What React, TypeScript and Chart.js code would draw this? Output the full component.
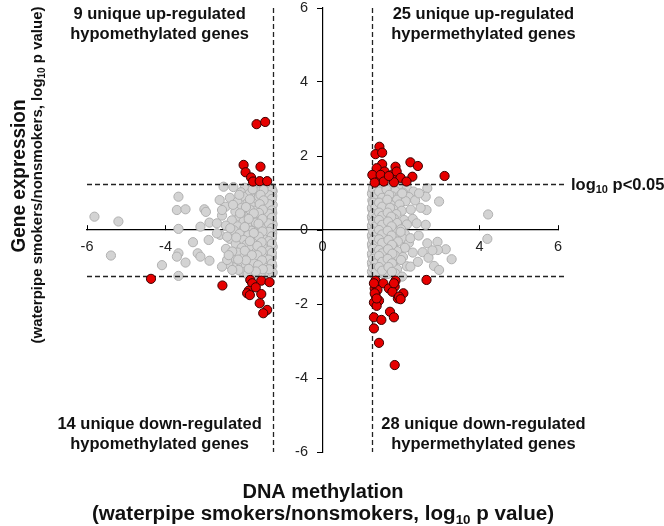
import React, { useEffect, useRef } from 'react';
import { Chart, registerables } from 'chart.js';
Chart.register(...registerables);

type P = [number, number];

const axisMin = -6;
const axisMax = 6;
const tickStep = 2;
const threshold = 1.25;

const xTitleLines = ['DNA methylation', '(waterpipe smokers/nonsmokers, log|10| p value)'];
const yTitleLines = ['Gene expression', '(waterpipe smokers/nonsmokers, log|10| p value)'];
const thresholdLabel = 'log|10| p<0.05';
const quadrantTexts = [
  ['9 unique up-regulated', 'hypomethylated genes'],
  ['25 unique up-regulated', 'hypermethylated genes'],
  ['14 unique down-regulated', 'hypomethylated genes'],
  ['28 unique down-regulated', 'hypermethylated genes'],
];

const grayLeft: P[] = [
  [-2.27,1.16],[-1.98,1.14],[-1.72,1.18],[-1.56,1.12],[-1.41,1.17],[-1.3,1.13],
  [-2.08,1.02],[-1.86,0.98],[-1.62,1.04],[-1.47,0.97],[-1.34,1.01],
  [-2.36,0.87],[-2.02,0.9],[-1.76,0.85],[-1.53,0.9],[-1.39,0.86],[-1.28,0.92],
  [-2.17,0.76],[-1.91,0.73],[-1.66,0.78],[-1.49,0.72],[-1.35,0.77],
  [-2.47,0.63],[-2.06,0.6],[-1.81,0.65],[-1.59,0.61],[-1.43,0.64],[-1.3,0.59],
  [-2.22,0.5],[-1.96,0.47],[-1.73,0.52],[-1.56,0.48],[-1.41,0.51],[-1.28,0.46],
  [-2.56,0.39],[-2.11,0.36],[-1.86,0.4],[-1.63,0.35],[-1.48,0.39],[-1.34,0.37],
  [-2.31,0.26],[-2.01,0.23],[-1.79,0.27],[-1.56,0.24],[-1.4,0.26],[-1.29,0.22],
  [-2.46,0.12],[-2.16,0.1],[-1.91,0.14],[-1.69,0.11],[-1.51,0.13],[-1.36,0.09],
  [-2.26,-0.01],[-2.01,0.02],[-1.81,-0.02],[-1.61,0.01],[-1.46,-0.03],[-1.3,0.0],
  [-2.61,-0.13],[-2.11,-0.1],[-1.89,-0.14],[-1.67,-0.11],[-1.51,-0.12],[-1.37,-0.14],
  [-2.36,-0.24],[-2.01,-0.27],[-1.76,-0.23],[-1.58,-0.26],[-1.43,-0.25],[-1.29,-0.22],
  [-2.21,-0.37],[-1.93,-0.39],[-1.71,-0.36],[-1.53,-0.4],[-1.38,-0.38],
  [-2.46,-0.51],[-2.06,-0.48],[-1.83,-0.52],[-1.63,-0.49],[-1.47,-0.5],[-1.31,-0.53],
  [-2.16,-0.61],[-1.91,-0.64],[-1.69,-0.6],[-1.51,-0.63],[-1.36,-0.61],
  [-2.31,-0.76],[-2.01,-0.74],[-1.78,-0.77],[-1.59,-0.73],[-1.43,-0.76],[-1.29,-0.74],
  [-2.11,-0.89],[-1.86,-0.87],[-1.66,-0.9],[-1.49,-0.86],[-1.35,-0.89],
  [-2.26,-1.01],[-1.96,-0.99],[-1.73,-1.02],[-1.56,-0.98],[-1.41,-1.01],[-1.28,-0.97],
  [-2.06,-1.13],[-1.81,-1.11],[-1.61,-1.14],[-1.46,-1.12],[-1.32,-1.1],
  [-1.91,-1.2],[-1.69,-1.21],[-1.51,-1.19],[-1.35,-1.22],
  [-1.27,1.05],[-1.33,0.8],[-1.27,0.68],[-1.32,0.3],[-1.27,0.15],[-1.28,-0.08],
  [-1.33,-0.3],[-1.27,-0.45],[-1.3,-0.68],[-1.32,-0.82],[-1.27,-1.15],
  [-1.45,0.82],[-1.44,0.2],[-1.46,-0.18],[-1.44,-0.7],[-1.55,0.05],[-1.6,-0.55],
  [-1.62,0.9],[-1.7,0.2],[-1.75,-0.88],[-1.85,0.55],
  [-1.29,1.08],[-1.36,0.94],[-1.29,0.84],[-1.37,0.7],[-1.29,0.53],[-1.36,0.44],
  [-1.29,0.33],[-1.37,0.18],[-1.29,0.05],[-1.36,-0.05],[-1.29,-0.17],[-1.37,-0.3],
  [-1.29,-0.37],[-1.36,-0.56],[-1.29,-0.62],[-1.37,-0.8],[-1.29,-0.91],[-1.36,-1.06],
  [-1.5,1.08],[-1.58,0.95],[-1.5,0.8],[-1.6,0.7],[-1.52,0.55],[-1.62,0.46],
  [-1.53,0.3],[-1.63,0.17],[-1.53,-0.04],[-1.62,-0.18],[-1.55,-0.33],[-1.66,-0.43],
  [-1.55,-0.57],[-1.66,-0.68],[-1.54,-0.82],[-1.64,-0.95],[-1.52,-1.06],[-1.7,-1.12],
  [-1.78,1.1],[-1.85,0.83],[-1.95,0.62],[-1.75,0.45],[-1.88,0.3],[-1.98,0.08],
  [-1.75,-0.08],[-1.85,-0.3],[-1.98,-0.56],[-1.8,-0.68],[-1.95,-0.82],[-1.88,-1.05],
  [-2.12,0.95],[-2.28,0.68],[-2.1,0.45],[-2.35,0.05],[-2.2,-0.2],[-2.3,-0.58],
  [-2.15,-0.8],[-2.4,-0.92],
  [-5.81,0.36],[-5.2,0.23],[-5.39,-0.69],[-3.67,0.9],[-3.71,0.54],[-3.49,0.56],
  [-3.67,0.03],[-3.01,0.56],[-2.97,0.49],[-3.11,0.09],[-2.88,0.2],[-2.9,-0.27],
  [-3.3,-0.33],[-3.67,-0.63],[-3.71,-0.72],[-3.49,-0.88],[-4.09,-0.95],[-3.67,-1.24],
  [-3.18,-0.63],[-3.11,-0.72],[-2.88,-0.83],[-2.62,0.81],[-2.52,1.17],[-2.56,0.54],
  [-2.69,0.18],[-2.69,-0.09],[-2.43,-0.18],[-2.56,-0.99],[-2.43,-0.81],[-2.39,-0.68],
  [-2.14,-1.08],[-2.3,-1.08],
];

const grayRight: P[] = [
  [1.3,1.17],[1.42,1.15],[1.58,1.18],[1.75,1.14],[1.95,1.17],[2.15,1.13],
  [1.28,1.05],[1.38,1.02],[1.5,1.06],[1.66,1.03],[1.85,1.06],[2.05,1.01],[2.32,1.04],
  [1.32,0.92],[1.45,0.9],[1.6,0.94],[1.78,0.91],[1.98,0.93],[2.2,0.89],
  [1.27,0.8],[1.38,0.78],[1.52,0.81],[1.7,0.79],[1.9,0.82],[2.12,0.78],[2.36,0.8],
  [1.3,0.68],[1.43,0.66],[1.57,0.7],[1.75,0.67],[1.96,0.69],
  [1.27,0.55],[1.36,0.53],[1.48,0.57],[1.62,0.54],[1.8,0.56],[2.02,0.52],[2.25,0.55],
  [1.31,0.42],[1.42,0.4],[1.55,0.44],[1.7,0.41],[1.88,0.43],
  [1.27,0.3],[1.37,0.28],[1.5,0.32],[1.64,0.29],[1.82,0.31],[2.08,0.27],[2.3,0.3],
  [1.3,0.18],[1.42,0.16],[1.56,0.2],[1.72,0.17],[1.9,0.19],[2.15,0.15],
  [1.27,0.05],[1.36,0.03],[1.48,0.07],[1.62,0.04],[1.78,0.06],[2.0,0.02],
  [1.31,-0.08],[1.43,-0.1],[1.55,-0.06],[1.7,-0.09],[1.88,-0.07],[2.1,-0.11],
  [1.27,-0.2],[1.37,-0.22],[1.5,-0.18],[1.65,-0.21],[1.82,-0.19],[2.05,-0.23],
  [1.3,-0.32],[1.42,-0.34],[1.56,-0.3],[1.72,-0.33],[1.92,-0.31],[2.2,-0.35],
  [1.27,-0.45],[1.36,-0.47],[1.48,-0.43],[1.62,-0.46],[1.8,-0.44],[2.1,-0.48],
  [1.31,-0.58],[1.43,-0.6],[1.55,-0.56],[1.7,-0.59],[1.9,-0.57],[2.3,-0.61],
  [1.27,-0.7],[1.37,-0.72],[1.5,-0.68],[1.65,-0.71],[1.85,-0.69],[2.05,-0.73],
  [1.3,-0.82],[1.42,-0.84],[1.56,-0.8],[1.72,-0.83],[2.0,-0.81],
  [1.27,-0.95],[1.36,-0.97],[1.48,-0.93],[1.62,-0.96],[1.8,-0.94],[2.15,-0.98],
  [1.31,-1.07],[1.43,-1.09],[1.55,-1.05],[1.7,-1.08],[1.9,-1.06],
  [1.28,-1.18],[1.38,-1.2],[1.5,-1.16],[1.66,-1.19],[1.85,-1.17],
  [1.26,0.98],[1.33,0.86],[1.26,0.6],[1.33,0.48],[1.26,0.36],[1.33,0.24],[1.26,0.12],
  [1.33,-0.02],[1.26,-0.14],[1.33,-0.26],[1.26,-0.38],[1.33,-0.52],[1.26,-0.64],
  [1.33,-0.76],[1.26,-0.88],[1.33,-1.0],[1.26,-1.12],[1.4,1.1],[1.4,0.72],[1.4,0.35],
  [1.4,-0.15],[1.4,-0.52],[1.4,-0.9],[1.47,0.98],[1.47,0.62],[1.47,0.12],[1.47,-0.38],
  [1.47,-0.77],[1.47,-1.12],[1.6,0.6],[1.6,-0.3],[1.58,-0.85],
  [1.29,1.12],[1.35,0.95],[1.29,0.74],[1.35,0.62],[1.29,0.43],[1.36,0.33],[1.29,0.22],
  [1.35,0.1],[1.29,-0.04],[1.36,-0.12],[1.29,-0.27],[1.35,-0.4],[1.29,-0.5],[1.36,-0.65],
  [1.29,-0.78],[1.35,-0.9],[1.29,-1.03],[1.36,-1.14],
  [1.44,1.04],[1.52,0.87],[1.44,0.74],[1.52,0.63],[1.44,0.47],[1.52,0.38],[1.44,0.27],
  [1.52,0.14],[1.44,0.0],[1.52,-0.12],[1.44,-0.25],[1.52,-0.35],[1.44,-0.54],[1.52,-0.63],
  [1.44,-0.7],[1.52,-0.86],[1.44,-1.0],[1.52,-1.1],
  [1.63,1.1],[1.7,0.95],[1.65,0.82],[1.72,0.6],[1.66,0.47],[1.75,0.36],[1.67,0.23],
  [1.76,0.1],[1.66,-0.02],[1.76,-0.15],[1.68,-0.27],[1.77,-0.4],[1.67,-0.52],[1.78,-0.64],
  [1.66,-0.78],[1.77,-0.9],[1.68,-1.0],[1.77,-1.13],
  [4.22,0.42],[4.2,-0.24],[2.97,0.77],[3.29,-0.79],[3.14,-0.52],[2.93,-0.32],
  [2.94,-0.54],[2.84,-0.97],[2.97,-1.08],[2.67,1.13],[2.63,0.9],[2.65,0.54],
  [2.63,0.14],[2.67,-0.36],[2.46,0.99],[2.4,0.18],[2.24,-0.22],[2.24,-0.99],
  [2.43,-0.86],[2.03,0.99],[1.99,-0.05],[2.03,-1.26],[2.5,0.6],[2.55,-0.6],
  [2.45,-0.15],[2.7,-0.75],[2.8,-0.55],
];

const redUpHypo: P[] = [
  [-1.68,2.86],[-1.46,2.92],[-2.01,1.76],[-1.58,1.71],[-1.96,1.56],
  [-1.82,1.42],[-1.77,1.31],[-1.6,1.32],[-1.41,1.32],
];
const redDownHypo: P[] = [
  [-4.37,-1.32],[-2.55,-1.5],[-1.84,-1.35],[-1.79,-1.44],[-1.56,-1.37],[-1.35,-1.41],
  [-1.88,-1.64],[-1.92,-1.71],[-1.85,-1.76],[-1.56,-1.73],[-1.6,-1.98],
  [-1.41,-2.16],[-1.51,-2.25],[-1.7,-1.55],
];
const redUpHyper: P[] = [
  [1.45,2.25],[1.35,2.05],[1.52,2.09],[1.52,1.78],[1.38,1.67],[1.86,1.71],
  [2.24,1.83],[2.43,1.73],[1.58,1.58],[1.78,1.5],[1.89,1.58],[1.31,1.44],
  [1.44,1.4],[1.52,1.35],[1.38,1.35],[1.99,1.41],[2.29,1.44],[1.82,1.29],
  [2.14,1.31],[3.11,1.46],[1.27,1.49],[1.48,1.49],[1.56,1.31],[1.69,1.46],[1.33,1.28],
];
const redDownHyper: P[] = [
  [1.35,-1.37],[1.55,-1.44],[1.86,-1.37],[1.84,-1.53],[2.65,-1.35],[1.33,-1.58],
  [1.4,-1.62],[1.69,-1.58],[1.78,-1.67],[2.06,-1.71],[1.92,-1.85],[1.35,-1.76],
  [1.44,-1.91],[1.31,-1.96],[1.38,-2.05],[1.72,-2.21],[1.82,-2.36],[1.31,-2.36],
  [1.5,-2.43],[1.31,-2.66],[1.44,-3.05],[1.84,-3.65],[1.95,-1.8],[1.31,-1.44],
  [1.33,-1.71],[1.82,-1.44],[1.38,-1.85],[1.99,-1.87],
];

const FONT = '"Liberation Sans", Arial, Helvetica, sans-serif';

function drawRich(
  ctx: CanvasRenderingContext2D, text: string, x: number, y: number, size: number,
  align: 'left' | 'center', targetWidth?: number,
) {
  const parts = text.split('|');
  const subSize = Math.round(size * 0.65);
  const widths = parts.map((p, i) => {
    ctx.font = `bold ${i % 2 === 1 ? subSize : size}px ${FONT}`;
    return ctx.measureText(p).width;
  });
  const total = widths.reduce((a, b) => a + b, 0);
  const sx = targetWidth ? targetWidth / total : 1;
  ctx.save();
  ctx.translate(x, y);
  ctx.scale(sx, 1);
  let cx = align === 'center' ? -total / 2 : 0;
  ctx.textAlign = 'left';
  ctx.textBaseline = 'alphabetic';
  parts.forEach((p, i) => {
    const sub = i % 2 === 1;
    ctx.font = `bold ${sub ? subSize : size}px ${FONT}`;
    ctx.fillText(p, cx, sub ? size * 0.22 : 0);
    cx += widths[i];
  });
  ctx.restore();
}

const overlayPlugin = {
  id: 'overlay',
  afterDatasetDraw(chart: any, args: any) {
    if (args.index !== 1) return;
    const { ctx, scales } = chart;
    const xs = scales.x, ys = scales.y;
    ctx.save();
    ctx.strokeStyle = '#222';
    ctx.lineWidth = 1.3;
    ctx.setLineDash([5, 3]);
    const xl = xs.getPixelForValue(axisMin), xr = xs.getPixelForValue(axisMax) + 6;
    const yt = ys.getPixelForValue(axisMax), yb = ys.getPixelForValue(axisMin);
    [threshold, -threshold].forEach((v) => {
      const py = Math.round(ys.getPixelForValue(v)) + 0.5;
      ctx.beginPath(); ctx.moveTo(xl, py); ctx.lineTo(xr, py); ctx.stroke();
      const px = Math.round(xs.getPixelForValue(v)) + 0.5;
      ctx.beginPath(); ctx.moveTo(px, yt); ctx.lineTo(px, yb); ctx.stroke();
    });
    ctx.restore();
  },
  afterDraw(chart: any) {
    const { ctx, scales, chartArea } = chart;
    const xs = scales.x, ys = scales.y;
    ctx.save();
    ctx.fillStyle = '#111';
    const y0 = ys.getPixelForValue(threshold);
    drawRich(ctx, thresholdLabel, xs.getPixelForValue(axisMax) + 13, y0 + 6, 16.5, 'left');
    const qx = [xs.getPixelForValue(-4.15), xs.getPixelForValue(4.1)];
    const qy = [chartArea.top + 11, chartArea.bottom - 23];
    quadrantTexts.forEach((lines, i) => {
      const cx = qx[i % 2];
      const cy = qy[Math.floor(i / 2)];
      lines.forEach((l, j) => drawRich(ctx, l, cx, cy + j * 20, 16.5, 'center'));
    });
    // x title
    drawRich(ctx, xTitleLines[0], 323, 498, 20, 'center');
    drawRich(ctx, xTitleLines[1], 323, 520, 20, 'center', 462);
    // y title
    ctx.translate(0, 176);
    ctx.rotate(-Math.PI / 2);
    drawRich(ctx, yTitleLines[0], 0, 25, 20, 'center', 153);
    drawRich(ctx, yTitleLines[1], 1, 42, 15, 'center');
    ctx.restore();
  },
};

function App() {
  const ref = useRef<HTMLCanvasElement>(null);
  useEffect(() => {
    if (!ref.current) return;
    const toPts = (a: P[]) => a.map(([x, y]) => ({ x, y }));
    const chart = new Chart(ref.current, {
      type: 'scatter',
      data: {
        datasets: [
          {
            label: 'significant',
            data: toPts([...redUpHypo, ...redDownHypo, ...redUpHyper, ...redDownHyper]),
            backgroundColor: '#e60000',
            borderColor: '#3a0000',
            borderWidth: 1,
            pointRadius: 4.6,
          },
          {
            label: 'other',
            data: toPts([...grayLeft, ...grayRight]),
            backgroundColor: '#d3d3d3',
            borderColor: '#b0b0b0',
            borderWidth: 1,
            pointRadius: 4.6,
          },
        ],
      },
      options: {
        responsive: false,
        animation: false,
        layout: { padding: { left: 87, right: 106, top: 8, bottom: 74 } },
        plugins: { legend: { display: false }, tooltip: { enabled: false } },
        scales: {
          x: {
            type: 'linear',
            min: axisMin,
            max: axisMax,
            position: { y: 0 } as any,
            ticks: { stepSize: tickStep, color: '#222', font: { family: FONT, size: 14.5 }, padding: 13 },
            grid: { display: true, drawOnChartArea: false, drawTicks: true, tickLength: -5, color: '#000' },
            border: { display: true, color: '#000', width: 1.2 },
          },
          y: {
            type: 'linear',
            min: axisMin,
            max: axisMax,
            position: { x: 0 } as any,
            ticks: {
              stepSize: tickStep, color: '#222', font: { family: FONT, size: 14.5, lineHeight: 0.5 },
              callback: (v: any) => `${v}\u2003`,
            },
            grid: { display: true, drawOnChartArea: false, drawTicks: true, tickLength: 5, color: '#000' },
            border: { display: true, color: '#000', width: 1.2 },
          },
        },
      },
      plugins: [overlayPlugin],
    });
    return () => chart.destroy();
  }, []);
  return (
    <div style={{ position: 'fixed', left: 0, top: 0, width: 664, height: 526, background: '#fff' }}>
      <canvas ref={ref} width={664} height={526} style={{ display: 'block' }} />
    </div>
  );
}

export default App;
